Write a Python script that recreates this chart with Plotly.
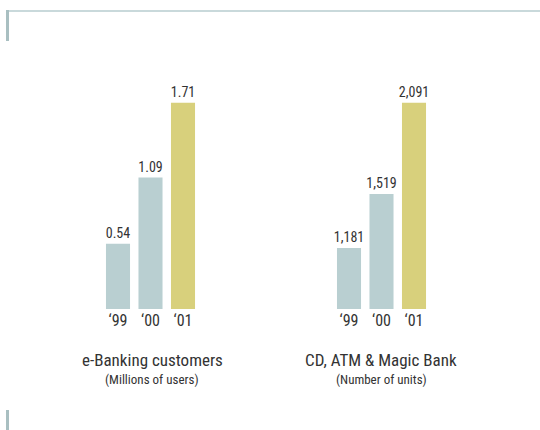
import plotly.graph_objects as go

years = ["‘99", "‘00", "‘01"]
ebank_users = [0.54, 1.09, 1.71]          # millions of users
ebank_labels = ["0.54", "1.09", "1.71"]
atm_units = [1181, 1519, 2091]            # number of units
atm_labels = ["1,181", "1,519", "2,091"]

bar_colors = ["#b9cfd1", "#b9cfd1", "#d8d07c"]
text_color = "#333333"
font_family = "Roboto Condensed, Liberation Sans Narrow, sans-serif"

W, H = 540, 430
fig = go.Figure()

for vals, labels, xa, ya in [(ebank_users, ebank_labels, "x", "y"),
                             (atm_units, atm_labels, "x2", "y2")]:
    fig.add_trace(go.Bar(
        x=years, y=vals, text=labels, textposition="outside",
        marker=dict(color=bar_colors, line=dict(width=0)), width=0.74,
        textfont=dict(size=14, color=text_color, family=font_family),
        constraintext="none", cliponaxis=False,
        xaxis=xa, yaxis=ya, hoverinfo="skip",
    ))

bottom_px, top_px = 309.0, 60.0
ydom = [1 - bottom_px / H, 1 - top_px / H]

def xdom(left_px, right_px):
    return [left_px / W, right_px / W]

xaxis_common = dict(
    showgrid=False, zeroline=False, showline=False, ticks="",
    tickfont=dict(size=16, color=text_color, family=font_family),
    fixedrange=True,
)
yaxis_common = dict(visible=False, showgrid=False, zeroline=False, fixedrange=True)

# vertical scale chosen so the tallest bar reaches the same height in both panels
scale_l = (bottom_px - 102.7) / 1.71
scale_r = (bottom_px - 102.7) / (2091 - 800)

fig.update_layout(
    width=W, height=H,
    margin=dict(l=0, r=0, t=0, b=0),
    paper_bgcolor="white", plot_bgcolor="white",
    showlegend=False,
    font=dict(family=font_family, color=text_color),
    xaxis=dict(domain=xdom(101.75, 199.25), anchor="y", **xaxis_common),
    yaxis=dict(domain=ydom, anchor="x",
               range=[0, (bottom_px - top_px) / scale_l], **yaxis_common),
    xaxis2=dict(domain=xdom(332.75, 430.25), anchor="y2", **xaxis_common),
    yaxis2=dict(domain=ydom, anchor="x2",
                range=[800, 800 + (bottom_px - top_px) / scale_r], **yaxis_common),
)

# panel captions
captions = [
    (152, "e-Banking customers", "(Millions of users)"),
    (381, "CD, ATM & Magic Bank", "(Number of units)"),
]
for cx, title, sub in captions:
    fig.add_annotation(x=cx / W, y=1 - 360 / H, xref="paper", yref="paper",
                       text=title, showarrow=False, xanchor="center", yanchor="middle",
                       font=dict(size=17, color=text_color, family=font_family))
    fig.add_annotation(x=cx / W, y=1 - 379 / H, xref="paper", yref="paper",
                       text=sub, showarrow=False, xanchor="center", yanchor="middle",
                       font=dict(size=13, color=text_color, family=font_family))

# frame decoration
def px_rect(x0, y0, x1, y1, color):
    fig.add_shape(type="rect", xref="paper", yref="paper",
                  x0=x0 / W, x1=x1 / W, y0=1 - y1 / H, y1=1 - y0 / H,
                  fillcolor=color, line=dict(width=0), layer="below")

px_rect(8, 10, 540, 12, "#c9d9db")
px_rect(6, 10, 9, 41, "#a9bfc1")
px_rect(6, 410, 9, 430, "#a9bfc1")

fig.write_html("out.html")
